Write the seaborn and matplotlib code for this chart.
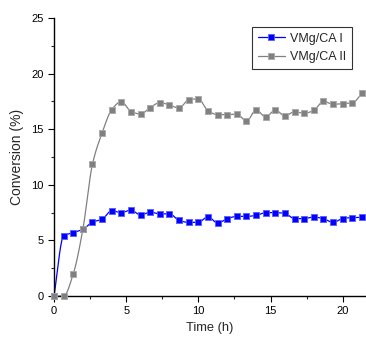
import numpy as np
import pandas as pd
import matplotlib
matplotlib.use("Agg")
import matplotlib.pyplot as plt
from matplotlib.lines import Line2D
from matplotlib.ticker import MultipleLocator
import seaborn as sns

# === DATA ===
TIME_H = [i * 2 / 3 for i in range(33)]
VMG_CA_I = [0.0, 5.4, 5.7, 6.0, 6.65, 6.9, 7.67, 7.5, 7.73, 7.28, 7.55, 7.37, 7.4,
            6.8, 6.62, 6.62, 7.13, 6.56, 6.95, 7.16, 7.16, 7.25, 7.5, 7.5, 7.43,
            6.95, 6.97, 7.1, 6.95, 6.62, 6.97, 7.05, 7.07]
VMG_CA_II = [0.0, 0.0, 1.98, 6.0, 11.87, 14.66, 16.76, 17.48, 16.58, 16.37, 16.94,
             17.39, 17.18, 16.9, 17.66, 17.72, 16.67, 16.31, 16.31, 16.37, 15.71,
             16.73, 16.1, 16.73, 16.19, 16.58, 16.43, 16.7, 17.51, 17.24, 17.3,
             17.36, 18.23]
SERIES = ["VMg/CA I", "VMg/CA II"]
COLORS = {"VMg/CA I": "#0000ff", "VMg/CA II": "#808080"}
EDGES = {"VMg/CA I": "#5a5aff", "VMg/CA II": "#a8a8a8"}


def smooth_line(x, y, n=40):
    # monotone cubic (Fritsch-Carlson) connecting line through the measured points
    x = np.asarray(x, float)
    y = np.asarray(y, float)
    h = np.diff(x)
    d = np.diff(y) / h
    m = np.zeros_like(y)
    m[0], m[-1] = d[0], d[-1]
    for i in range(1, len(y) - 1):
        if d[i - 1] * d[i] > 0:
            w1 = 2 * h[i] + h[i - 1]
            w2 = h[i] + 2 * h[i - 1]
            m[i] = (w1 + w2) / (w1 / d[i - 1] + w2 / d[i])
    xs, ys = [], []
    for i in range(len(x) - 1):
        t = np.linspace(0, 1, n, endpoint=False)
        h00 = 2 * t ** 3 - 3 * t ** 2 + 1
        h10 = t ** 3 - 2 * t ** 2 + t
        h01 = -2 * t ** 3 + 3 * t ** 2
        h11 = t ** 3 - t ** 2
        xs.extend(x[i] + t * h[i])
        ys.extend(h00 * y[i] + h10 * h[i] * m[i] + h01 * y[i + 1] + h11 * h[i] * m[i + 1])
    xs.append(x[-1])
    ys.append(y[-1])
    return xs, ys


points = pd.DataFrame({
    "Time (h)": TIME_H * 2,
    "Conversion (%)": VMG_CA_I + VMG_CA_II,
    "Sample": [SERIES[0]] * len(TIME_H) + [SERIES[1]] * len(TIME_H),
})
curves = []
for name, vals in zip(SERIES, [VMG_CA_I, VMG_CA_II]):
    xs, ys = smooth_line(TIME_H, vals)
    curves.append(pd.DataFrame({"Time (h)": xs, "Conversion (%)": ys, "Sample": name}))
curves = pd.concat(curves, ignore_index=True)

sns.set_style("ticks")
plt.rcParams['font.family'] = ['Liberation Sans', 'DejaVu Sans']

fig = plt.figure(figsize=(3.66, 3.39), dpi=100)
ax = fig.add_axes([0.1475, 0.1268, 0.852, 0.8201])

sns.lineplot(data=curves, x="Time (h)", y="Conversion (%)", hue="Sample",
             palette=COLORS, linewidth=0.9, sort=False, estimator=None,
             legend=False, ax=ax, zorder=2)
for name in SERIES:
    sub = points[points["Sample"] == name]
    sns.scatterplot(data=sub, x="Time (h)", y="Conversion (%)", marker="s", s=20,
                    color=COLORS[name], edgecolor=EDGES[name], linewidth=0.6,
                    legend=False, ax=ax, zorder=3, clip_on=False)

ax.set_xlim(0, 21.6)
ax.set_ylim(0, 25)
ax.xaxis.set_major_locator(MultipleLocator(5))
ax.xaxis.set_minor_locator(MultipleLocator(2.5))
ax.yaxis.set_major_locator(MultipleLocator(5))
ax.yaxis.set_minor_locator(MultipleLocator(2.5))
ax.tick_params(which="major", direction="out", length=4, width=0.8, labelsize=8, colors="black")
ax.tick_params(which="minor", direction="out", length=2.5, width=0.8)
for side in ["top", "right"]:
    ax.spines[side].set_visible(False)
for side in ["left", "bottom"]:
    ax.spines[side].set_linewidth(1.0)
    ax.spines[side].set_color("black")
ax.set_xlabel("Time (h)", fontsize=9.3, labelpad=4)
ax.set_ylabel("Conversion (%)", fontsize=10, labelpad=5)

handles = [Line2D([], [], color=COLORS[n], marker="s", markersize=4.5,
                  markeredgecolor=EDGES[n], markeredgewidth=0.6, linewidth=0.9)
           for n in SERIES]
leg = ax.legend(handles, SERIES, loc="upper right", bbox_to_anchor=(0.955, 0.967),
                fontsize=9, frameon=True, fancybox=False, edgecolor="black",
                handlelength=2.2, handletextpad=0.4, borderpad=0.45, labelspacing=0.5,
                borderaxespad=0)
leg.get_frame().set_linewidth(0.8)

fig.savefig("out.png", dpi=100)
